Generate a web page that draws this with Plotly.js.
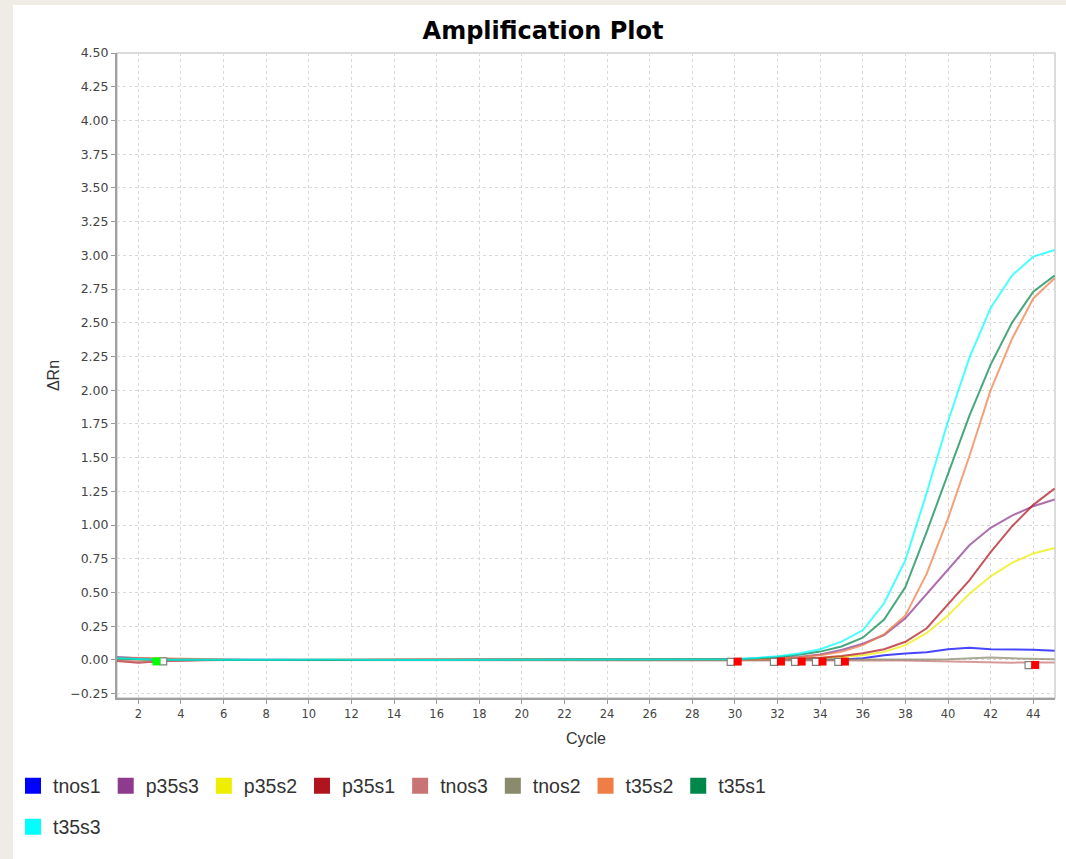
<!DOCTYPE html>
<html>
<head>
<meta charset="utf-8">
<script src="https://cdn.plot.ly/plotly-3.0.1.min.js"></script>
<style>
  html, body { margin:0; padding:0; background:#ffffff; }
  #chart { position:absolute; left:0; top:0; width:1066px; height:859px; }
  .strip { position:absolute; background:#efece6; pointer-events:none; z-index:10; }
</style>
</head>
<body>
<div id="chart"></div>
<div class="strip" style="left:0;top:0;width:13px;height:859px;"></div>
<div class="strip" style="left:0;top:0;width:1066px;height:5px;"></div>
<script>
// ---- data ----
const cycles = [1,2,3,4,5,6,7,8,9,10,11,12,13,14,15,16,17,18,19,20,21,22,23,24,25,26,27,28,29,30,31,32,33,34,35,36,37,38,39,40,41,42,43,44,45];

const seriesNames = ['tnos1','p35s3','p35s2','p35s1','tnos3','tnos2','t35s2','t35s1','t35s3'];
const seriesColors = ['#0000ff','#8e3a8e','#eeee00','#b0141e','#c87474','#8a8a6c','#f07c46','#00874a','#00ffff'];

const tnos1 = [0.020,0.012,0.005,0.002,0.001,0.001,0.000,0.000,0.001,0.001,
               0.000,0.000,0.000,0.001,0.000,0.000,0.000,0.000,0.001,0.002,
               0.003,0.002,0.001,0.002,0.004,0.002,0.001,0.001,0.002,0.002,
               0.001,0.000,-0.001,0.000,0.003,0.012,0.035,0.048,0.057,0.080,
               0.090,0.080,0.078,0.076,0.068];
const p35s3 = [0.006,0.002,0.001,0.000,0.000,0.000,0.000,0.000,0.000,0.000,
               0.000,0.000,0.000,0.000,0.000,0.000,0.000,0.000,0.000,0.000,
               0.000,0.000,0.000,0.000,0.000,0.000,0.001,0.001,0.002,0.003,
               0.007,0.012,0.022,0.040,0.074,0.120,0.185,0.310,0.490,0.670,
               0.850,0.980,1.070,1.140,1.190];
const p35s2 = [0.008,0.003,0.001,0.000,0.000,0.000,0.000,0.000,0.000,0.000,
               0.000,0.000,0.000,0.000,0.000,0.000,0.001,0.003,0.001,0.000,
               0.000,0.000,0.000,0.000,0.000,0.000,0.000,0.000,0.000,0.000,
               0.002,0.004,0.008,0.012,0.022,0.035,0.060,0.110,0.200,0.330,
               0.490,0.620,0.720,0.790,0.830];
const p35s1 = [-0.008,-0.020,-0.010,-0.004,-0.002,-0.001,0.000,0.001,0.001,0.001,
               0.001,0.001,0.001,0.001,0.001,0.001,0.001,0.001,0.001,0.001,
               0.001,0.001,0.001,0.001,0.000,0.000,0.000,0.000,0.000,0.000,
               0.002,0.005,0.010,0.016,0.030,0.050,0.080,0.135,0.235,0.410,
               0.590,0.800,0.990,1.150,1.270];
const tnos3 = [0.000,-0.015,-0.008,-0.003,-0.001,0.000,0.000,0.000,0.000,0.000,
               0.000,0.000,0.000,0.000,0.000,0.000,0.000,0.000,0.000,0.000,
               0.000,0.000,0.000,0.000,0.000,0.000,0.000,0.000,0.000,0.000,
               0.000,0.000,0.000,0.000,0.000,-0.001,-0.002,-0.004,-0.008,-0.012,
               -0.016,-0.020,-0.020,-0.018,-0.018];
const tnos2 = [0.010,0.004,0.002,0.001,0.000,0.000,0.000,0.000,0.000,0.000,
               0.000,0.000,0.000,0.000,0.000,0.000,0.000,0.000,0.000,0.000,
               0.000,0.000,0.000,0.000,0.000,0.000,0.000,0.000,0.000,0.000,
               0.000,0.000,0.000,0.000,0.000,0.001,0.001,0.002,0.004,0.006,
               0.012,0.018,0.012,0.008,0.006];
const t35s2 = [0.018,0.015,0.010,0.006,0.003,0.002,0.001,0.001,0.001,0.001,
               0.000,0.000,0.000,0.000,0.000,0.000,0.000,0.000,0.000,0.000,
               0.000,0.000,0.000,0.000,0.000,0.000,0.000,0.001,0.001,0.003,
               0.006,0.010,0.020,0.035,0.060,0.110,0.190,0.330,0.640,1.050,
               1.510,2.000,2.380,2.680,2.830];
const t35s1 = [0.010,0.005,0.002,0.001,0.000,0.000,0.000,0.000,0.000,0.000,
               0.000,0.000,0.000,0.000,0.000,0.000,0.000,0.000,0.000,0.000,
               0.000,0.000,0.000,0.000,0.000,0.000,0.000,0.001,0.002,0.005,
               0.012,0.022,0.038,0.062,0.100,0.165,0.300,0.540,0.950,1.380,
               1.810,2.190,2.500,2.730,2.850];
const t35s3 = [0.012,0.005,0.002,0.001,0.000,0.000,0.000,0.001,0.002,0.004,
               0.004,0.002,0.000,0.000,0.000,0.000,0.000,0.000,0.000,0.000,
               0.000,0.000,0.000,0.000,0.000,0.000,0.000,0.001,0.002,0.005,
               0.015,0.028,0.048,0.080,0.136,0.220,0.420,0.740,1.240,1.770,
               2.240,2.610,2.850,2.990,3.040];

// baseline start / end markers
const baseStartX = [3.17, 29.80, 31.83, 32.82, 33.80, 34.85, 43.78];
const baseStartY = [-0.011, -0.014, -0.014, -0.014, -0.014, -0.014, -0.039];
const baseEndX   = [30.13, 32.16, 33.13, 34.11, 35.16, 44.09];
const baseEndY   = [-0.012, -0.012, -0.012, -0.012, -0.012, -0.037];
const greenEndX  = [2.85];
const greenEndY  = [-0.011];

const seriesValues = [tnos1, p35s3, p35s2, p35s1, tnos3, tnos2, t35s2, t35s1, t35s3];

// ---- traces ----
const traces = [];
seriesNames.forEach((name, i) => {
  traces.push({
    type: 'scatter', mode: 'lines', x: cycles, y: seriesValues[i],
    name: name, legendgroup: name, showlegend: false,
    line: { color: seriesColors[i], width: 2 }, opacity: 0.72,
    hoverinfo: 'x+y+name'
  });
});
seriesNames.forEach((name, i) => {
  traces.push({
    type: 'scatter', mode: 'markers', x: [null], y: [null],
    name: name, legendgroup: name, showlegend: true,
    legend: i < 8 ? 'legend' : 'legend2',
    marker: { symbol: 'square', size: 16, color: seriesColors[i] }
  });
});
traces.push({
  type: 'scatter', mode: 'markers', x: baseStartX, y: baseStartY, showlegend: false,
  marker: { symbol: 'square', size: 7, color: '#ffffff', line: { color: '#808080', width: 1.2 } },
  hoverinfo: 'skip'
});
traces.push({
  type: 'scatter', mode: 'markers', x: baseEndX, y: baseEndY, showlegend: false,
  marker: { symbol: 'square', size: 8, color: '#ff0000' }, hoverinfo: 'skip'
});
traces.push({
  type: 'scatter', mode: 'markers', x: greenEndX, y: greenEndY, showlegend: false,
  marker: { symbol: 'square', size: 8, color: '#00ff00' }, hoverinfo: 'skip'
});

const W = 1066, H = 859;
const layout = {
  width: W, height: H,
  paper_bgcolor: '#ffffff', plot_bgcolor: '#ffffff',
  margin: { l: 117, r: 11, t: 53, b: 161, pad: 0 },
  title: {
    text: 'Amplification Plot',
    font: { family: 'DejaVu Sans', size: 24, color: '#000000', weight: 'bold' },
    x: 543 / W, xref: 'container', xanchor: 'center',
    y: 1 - 31 / H, yref: 'container', yanchor: 'middle'
  },
  xaxis: {
    range: [1, 45.02], tick0: 0, dtick: 2,
    ticks: 'outside', ticklen: 4, tickcolor: '#999999', tickwidth: 1,
    showline: true, linecolor: '#a0a0a0', linewidth: 2,
    showgrid: true, gridcolor: '#d9d9d9', griddash: '3px,3px', gridwidth: 1,
    zeroline: false,
    tickfont: { family: 'DejaVu Sans', size: 11.5, color: '#444444' },
    title: { text: 'Cycle', font: { family: 'Liberation Sans', size: 16, color: '#333333' }, standoff: 13 }
  },
  yaxis: {
    range: [-0.282, 4.5], tick0: 0, dtick: 0.25, tickformat: '.2f',
    ticks: 'outside', ticklen: 4, tickcolor: '#999999', tickwidth: 1,
    showline: true, linecolor: '#a0a0a0', linewidth: 2,
    showgrid: true, gridcolor: '#d9d9d9', griddash: '3px,3px', gridwidth: 1,
    zeroline: false,
    tickfont: { family: 'DejaVu Sans', size: 12.5, color: '#444444' },
    title: { text: 'ΔRn', font: { family: 'Liberation Sans', size: 16, color: '#333333' }, standoff: 7 }
  },
  shapes: [{
    type: 'rect', xref: 'paper', yref: 'paper', x0: 0, x1: 1, y0: 0, y1: 1,
    line: { color: '#cfcfcf', width: 1.5 }, layer: 'below'
  }],
  legend: {
    orientation: 'h', xref: 'container', yref: 'container',
    x: 13 / W, xanchor: 'left', y: 1 - 786 / H, yanchor: 'middle',
    font: { family: 'Liberation Sans', size: 19.5, color: '#333333' },
    bgcolor: 'rgba(0,0,0,0)', itemwidth: 30
  },
  legend2: {
    orientation: 'h', xref: 'container', yref: 'container',
    x: 13 / W, xanchor: 'left', y: 1 - 827 / H, yanchor: 'middle',
    font: { family: 'Liberation Sans', size: 19.5, color: '#333333' },
    bgcolor: 'rgba(0,0,0,0)', itemwidth: 30
  },
  showlegend: true
};

Plotly.newPlot('chart', traces, layout, { displayModeBar: false });
</script>
</body>
</html>
